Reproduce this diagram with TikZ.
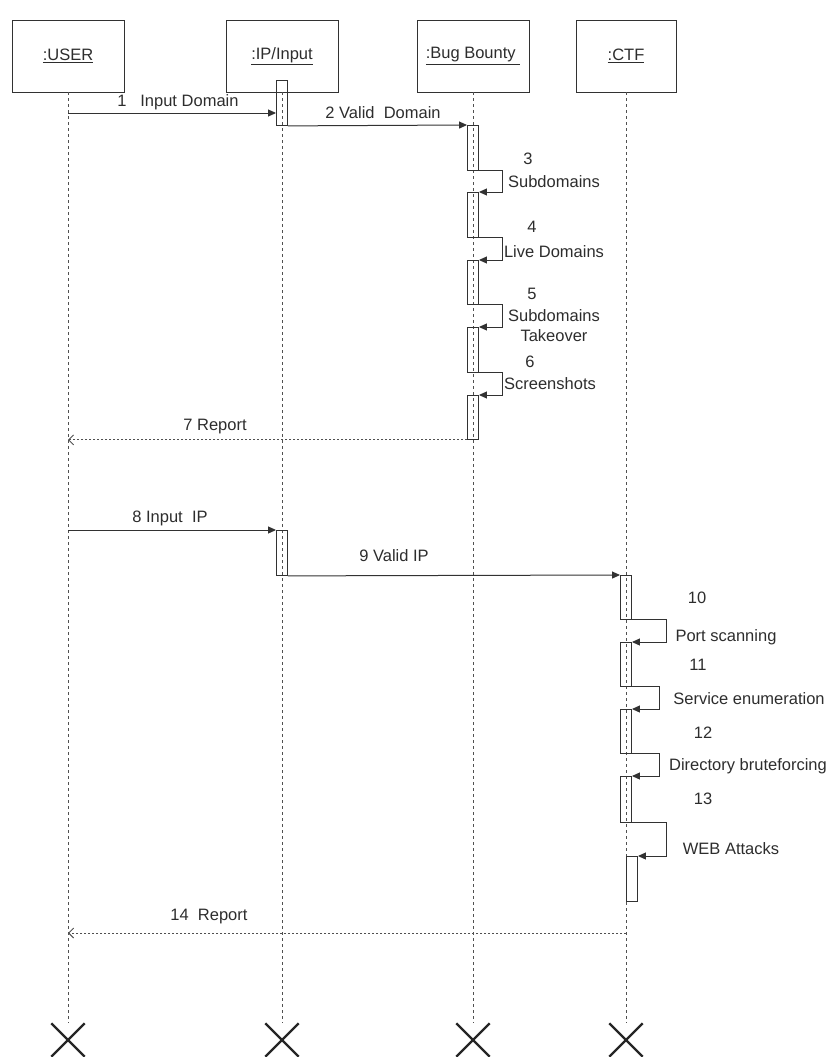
\documentclass[tikz,border=0pt]{standalone}
\usepackage{fontspec}
\setmainfont{Liberation Sans}
\usepackage{tikz}
\usetikzlibrary{arrows.meta,shapes.misc}
\definecolor{GrisLinea}{RGB}{50,50,50}
\definecolor{GrisTexto}{RGB}{45,45,45}
\definecolor{GrisVida}{RGB}{80,80,80}

\begin{document}
\begin{tikzpicture}[x=1pt,y=-1pt,>={Triangle[length=8pt,width=7pt]},
  caja/.style={draw=GrisLinea,line width=0.9pt,minimum width=112pt,minimum height=72pt,inner sep=0pt,font=\fontsize{16.5}{20}\selectfont,text=GrisTexto},
  act/.style={draw=GrisLinea,line width=0.9pt,minimum width=11pt,inner sep=0pt,anchor=north},
  vida/.style={draw=GrisVida,line width=0.7pt,dash pattern=on 3pt off 3pt},
  fin/.style={cross out,draw=black!85,line width=2.4pt,minimum width=31pt,minimum height=31pt,inner sep=0pt},
  msg/.style={->,draw=GrisLinea,line width=1pt},
  ret/.style={-{Straight Barb[length=5pt,width=10pt]},draw=GrisVida,line width=0.9pt,dash pattern=on 2pt off 2pt},
  etq/.style={font=\fontsize{16.5}{20}\selectfont,text=GrisTexto,inner sep=1pt}]
  \useasboundingbox (0,0) rectangle (835,1057);

  \node[caja] (user) at (68,56) {\underline{:USER}};
  \node[caja] (ip) at (282,56) {\underline{:IP/Input}};
  \node[caja] (bb) at (473,56) {\underline{:Bug Bounty\ }};
  \node[caja,minimum width=100pt] (ctf) at (626,56) {\underline{:CTF}};

  \node[fin] (userX) at (68,1040) {};
  \node[fin] (ipX) at (282,1040) {};
  \node[fin] (bbX) at (473,1040) {};
  \node[fin] (ctfX) at (626,1040) {};

  \draw[vida] (user) -- (userX.north);
  \draw[vida] (ip) -- (ipX.north);
  \draw[vida] (bb) -- (bbX.north);
  \draw[vida] (ctf) -- (ctfX.north);

  \node[act,minimum height=45pt] (ipA1) at (282,80) {};
  \node[act,minimum height=45pt] (ipA2) at (282,530) {};

  \node[act,minimum height=45pt] (bbA1) at (473,125) {};
  \node[act,minimum height=45pt] (bbA2) at (473,192) {};
  \node[act,minimum height=44pt] (bbA3) at (473,260) {};
  \node[act,minimum height=45pt] (bbA4) at (473,327) {};
  \node[act,minimum height=44pt] (bbA5) at (473,395) {};

  \node[act,minimum height=44pt] (ctfA1) at (626,575) {};
  \node[act,minimum height=44pt] (ctfA2) at (626,642) {};
  \node[act,minimum height=44pt] (ctfA3) at (626,709) {};
  \node[act,minimum height=46pt] (ctfA4) at (626,776) {};
  \node[act,minimum height=45pt] (ctfA5) at (632,856) {};

  \coordinate (m1) at (68,113);
  \draw[msg] (m1) -- (m1 -| ipA1.west);
  \node[etq] (t1) at (178,102) {1\ \ \ Input Domain};
  \draw[msg] (ipA1.south east) -- (bbA1.north west);
  \node[etq] (t2) at (383,113) {2 Valid\ \ Domain};

  \draw[msg] (bbA1.south east) -- ++(24,0) |- (bbA2.north east);
  \node[etq] (t3) at (528,159) {3};
  \node[etq] (t3b) at (554,182) {Subdomains};
  \draw[msg] (bbA2.south east) -- ++(24,0) |- (bbA3.north east);
  \node[etq] (t4) at (532,227) {4};
  \node[etq] (t4b) at (554,252) {Live Domains};
  \draw[msg] (bbA3.south east) -- ++(24,0) |- (bbA4.north east);
  \node[etq] (t5) at (532,294) {5};
  \node[etq,align=center] (t5b) at (554,326) {Subdomains\\Takeover};
  \draw[msg] (bbA4.south east) -- ++(24,0) |- (bbA5.north east);
  \node[etq] (t6) at (530,362) {6};
  \node[etq] (t6b) at (550,384) {Screenshots};

  \draw[ret] (bbA5.south west) -- (bbA5.south west -| user);
  \node[etq] (t7) at (215,427) {7 Report};

  \coordinate (m8) at (68,530);
  \draw[msg] (m8) -- (ipA2.north west);
  \node[etq] (t8) at (170,518) {8 Input\ \ IP};
  \draw[msg] (ipA2.south east) -- (ctfA1.north west);
  \node[etq] (t9) at (394,556) {9 Valid IP};

  \draw[msg] (ctfA1.south east) -- ++(35,0) |- (ctfA2.north east);
  \node[etq] (t10) at (697,598) {10};
  \node[etq] (t10b) at (726,637) {Port scanning};
  \draw[msg] (ctfA2.south east) -- ++(28,0) |- (ctfA3.north east);
  \node[etq] (t11) at (698,665) {11};
  \node[etq] (t11b) at (749,699) {Service enumeration};
  \draw[msg] (ctfA3.south east) -- ++(28,0) |- (ctfA4.north east);
  \node[etq] (t12) at (703,733) {12};
  \node[etq] (t12b) at (748,766) {Directory bruteforcing};
  \draw[msg] (ctfA4.south east) -- ++(35,0) |- (ctfA5.north east);
  \node[etq] (t13) at (703,799) {13};
  \node[etq] (t13b) at (731,849) {WEB Attacks};

  \coordinate (r14) at (626,933);
  \draw[ret] (r14) -- (r14 -| user);
  \node[etq] (t14) at (209,917) {14\ \ Report};
\end{tikzpicture}
\end{document}
